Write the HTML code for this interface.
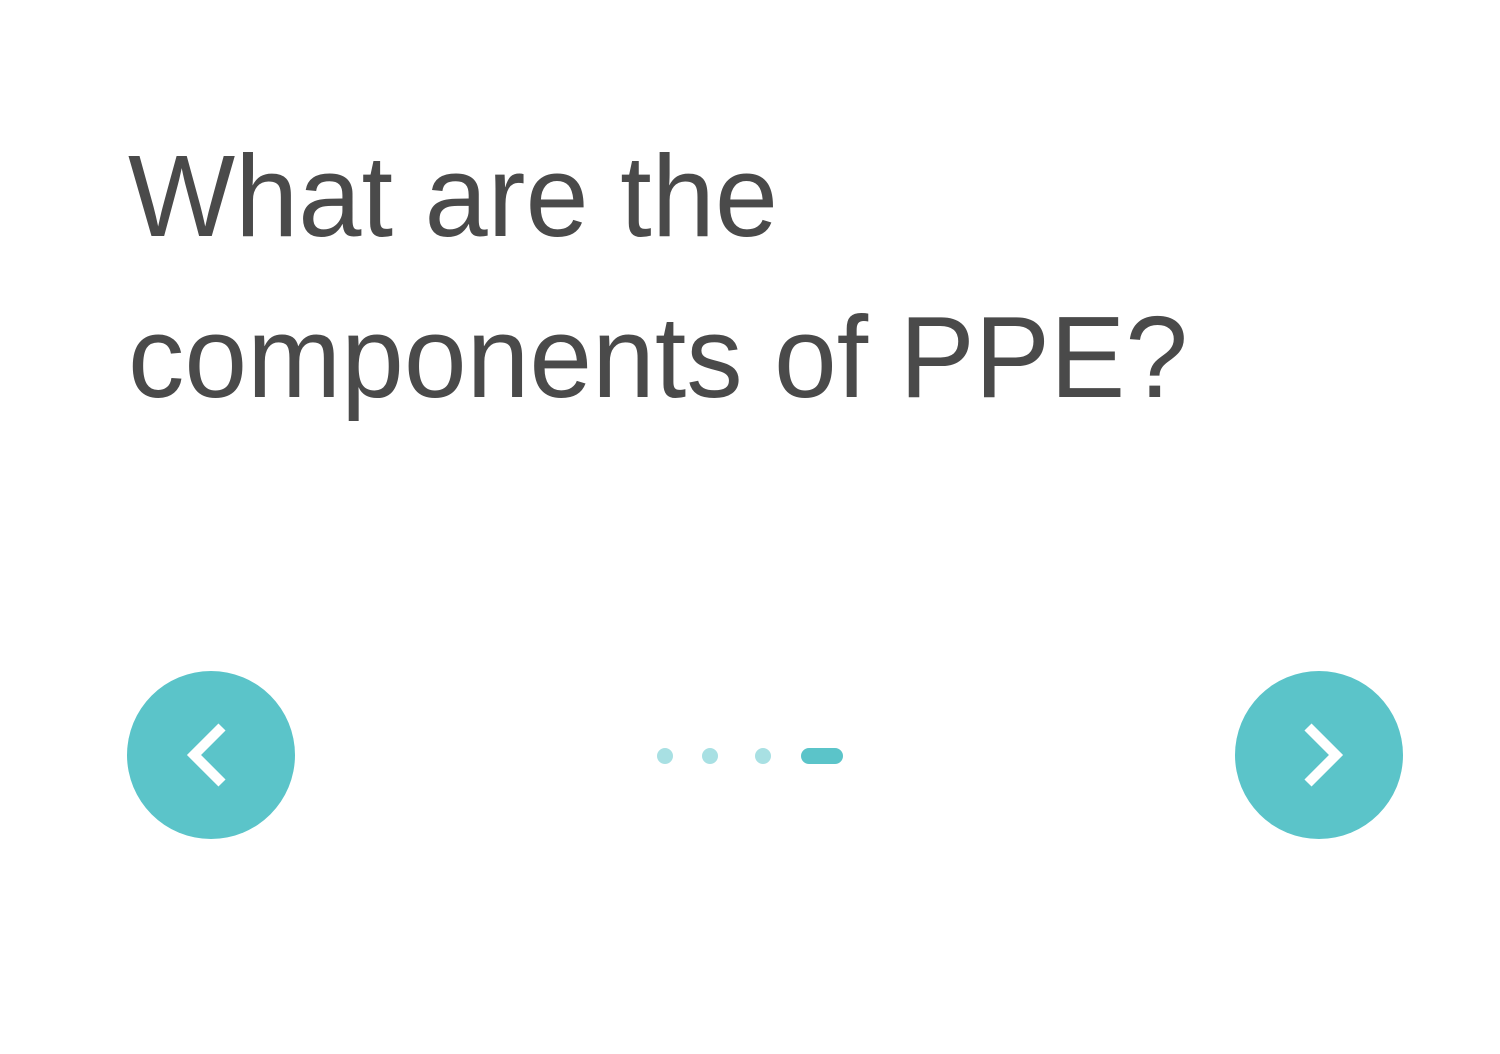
<!DOCTYPE html>
<html>
<head>
<meta charset="utf-8">
<style>
  html,body{margin:0;padding:0;background:#fff;}
  body{width:1500px;height:1054px;overflow:hidden;position:relative;}
  svg{position:absolute;left:0;top:0;}
</style>
</head>
<body>
<svg width="1500" height="1054" viewBox="0 0 1500 1054">
  <g font-family="'Liberation Sans', sans-serif" font-size="116" fill="#4a4a4a">
    <text x="128" y="236" textLength="650" lengthAdjust="spacingAndGlyphs">What are the</text>
    <text x="128" y="397" textLength="1060" lengthAdjust="spacingAndGlyphs">components of PPE?</text>
  </g>
  <g>
    <circle cx="211" cy="755" r="84" fill="#5bc4c9"/>
    <polyline points="222,727 194,755 222,783" fill="none" stroke="#fff" stroke-width="10"/>
  </g>
  <g>
    <circle cx="1319" cy="755" r="84" fill="#5bc4c9"/>
    <polyline points="1308,727 1336,755 1308,783" fill="none" stroke="#fff" stroke-width="10"/>
  </g>
  <g>
    <circle cx="665" cy="756" r="8" fill="#a8e0e3"/>
    <circle cx="710" cy="756" r="8" fill="#a8e0e3"/>
    <circle cx="763" cy="756" r="8" fill="#a8e0e3"/>
    <rect x="801" y="748" width="42" height="16" rx="8" fill="#5bc4c9"/>
  </g>
</svg>
</body>
</html>
